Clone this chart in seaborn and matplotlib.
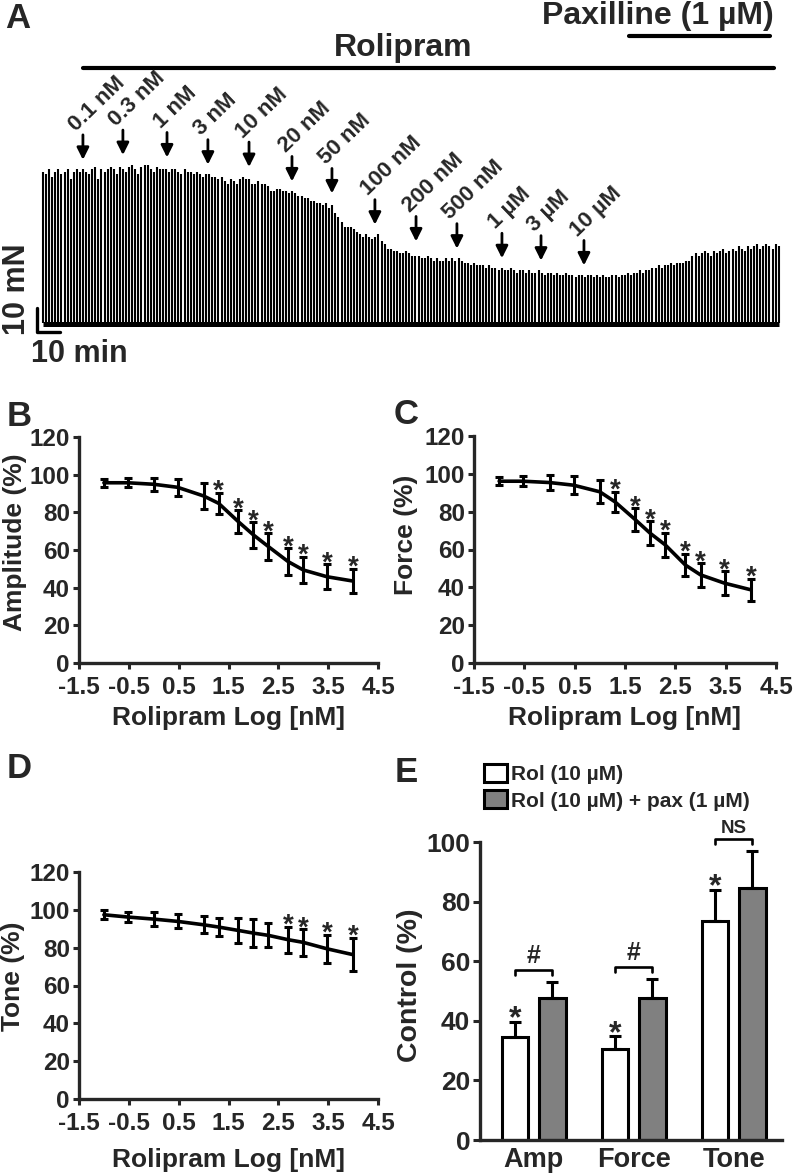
import numpy as np
import pandas as pd
import matplotlib
matplotlib.use("Agg")
import matplotlib.pyplot as plt
import matplotlib.patches as mpatches
import seaborn as sns

# ---------------- panel A : isometric tension trace ----------------
# peak force of each contraction (mN), read left to right off the trace
peaks_mN = [
    63, 62, 64, 61, 63, 64, 62, 63, 64, 60, 63, 64, 63,
    64, 63, 62, 64, 65, 60, 64, 63, 64, 65, 64, 62, 65,
    64, 63, 65, 66, 64, 62, 65, 66, 66, 64, 63, 65, 64, 64,
    64, 63, 64, 64, 63, 62, 64, 63, 63, 62, 63, 62, 61, 62,
    62, 61, 61, 60, 61, 59, 58, 60, 59, 58, 60, 61, 60,
    60, 58, 58, 59, 58, 58, 57,
    55, 55, 56, 56, 55, 55, 54,
    55, 54, 53, 53, 52, 52, 51, 51, 50, 50, 49, 50, 48,
    49, 46, 44, 42, 40,
    40, 40, 39, 38, 37, 36, 37, 36, 35,
    36, 37, 34, 33, 31, 31, 30,
    30, 29, 29, 30, 29, 28, 28,
    28, 27, 27, 28, 27, 26, 27, 26,
    26, 27, 26, 27, 26, 27, 26, 25, 25, 24, 25, 24, 24,
    24, 23, 24, 23, 23, 22, 23, 22, 22, 23, 22, 21, 22, 22, 21, 22,
    21, 21, 22, 21, 20, 21, 21, 20, 21, 20, 20, 21, 20, 20, 19, 20, 20, 19, 20, 20,
    19, 20, 19, 20, 19, 19, 20, 20, 19, 20, 20, 21, 20,
    21, 21, 22, 21, 22, 22, 23, 23, 24, 23, 24, 24, 25, 24, 25, 25, 25, 26, 26,
    28, 29, 28, 29, 30, 29, 28, 30, 29, 30, 31, 29, 30, 31, 30, 32, 31, 30, 32, 31,
    32, 33, 31, 32, 33, 32, 31, 33, 32,
]
beat_interval = 1.34  # min between contractions
dose_labels = ["0.1 nM", "0.3 nM", "1 nM", "3 nM", "10 nM", "20 nM", "50 nM",
               "100 nM", "200 nM", "500 nM", "1 \u00b5M", "3 \u00b5M", "10 \u00b5M"]
dose_times = [17.4, 34.8, 54.0, 71.8, 89.7, 108.4, 125.8, 144.5, 162.4,
              180.2, 199.8, 216.8, 235.5]
rolipram_span = [17.4, 318.3]
paxilline_span = [255.1, 316.5]

# ---------------- panels B-D : cumulative concentration response ----------------
conc_nM = [0.1, 0.3, 1, 3, 10, 20, 50, 100, 200, 500, 1000, 3000, 10000]
amp_mean = [95.7, 95.7, 94.9, 93.3, 88.7, 84.8, 75.0, 68.0, 61.8, 53.8, 49.4, 45.8, 43.5]
amp_sem = [2.0, 2.5, 3.5, 4.4, 7.0, 5.5, 6.0, 6.8, 7.0, 7.0, 7.0, 6.6, 6.4]
amp_sig = [0, 0, 0, 0, 0, 1, 1, 1, 1, 1, 1, 1, 1]
force_mean = [96.1, 96.1, 95.4, 94.0, 90.5, 85.2, 75.9, 68.6, 62.4, 51.8, 46.6, 42.2, 38.7]
force_sem = [2.0, 2.5, 4.0, 4.7, 6.0, 5.3, 6.0, 6.4, 6.3, 6.0, 6.2, 6.3, 5.9]
force_sig = [0, 0, 0, 0, 0, 1, 1, 1, 1, 1, 1, 1, 1]
tone_mean = [97.4, 96.2, 95.1, 93.9, 92.1, 90.9, 89.1, 87.7, 86.5, 84.2, 82.8, 79.4, 76.3]
tone_sem = [2.3, 2.8, 3.8, 3.7, 4.4, 4.8, 6.6, 7.3, 6.3, 6.8, 7.0, 7.5, 8.8]
tone_sig = [0, 0, 0, 0, 0, 0, 0, 0, 0, 1, 1, 1, 1]
x_ticks = [-1.5, -0.5, 0.5, 1.5, 2.5, 3.5, 4.5]
x_tick_labels = ["-1.5", "-0.5", "0.5", "1.5", "2.5", "3.5", "4.5"]

# ---------------- panel E : 10 uM rolipram with / without paxilline ----------------
measures = ["Amp", "Force", "Tone"]
rol_mean = [34.6, 30.7, 73.4]
rol_sem = [5.1, 4.2, 10.6]
pax_mean = [47.8, 47.7, 84.6]
pax_sem = [5.3, 6.3, 12.4]
group_names = ["Rol (10 \u00b5M)", "Rol (10 \u00b5M) + pax (1 \u00b5M)"]
pair_marks = ["#", "#", "NS"]

sns.set_theme(style="ticks")
plt.rcParams["font.family"] = ["Liberation Sans", "DejaVu Sans"]
plt.rcParams["font.weight"] = "bold"
plt.rcParams["axes.labelweight"] = "bold"
plt.rcParams["axes.linewidth"] = 2.4

W, H = 796, 1176
fig = plt.figure(figsize=(W / 100, H / 100), dpi=100)


def box(left, top, right, bottom):
    # pixel box -> figure fraction rect
    return [left / W, 1 - bottom / H, (right - left) / W, (bottom - top) / H]


# ---- A ----
axA = fig.add_axes(box(0, 0, 796, 365))
axA.set_xlim(-18.7, 327.8)
axA.set_ylim(-17.5, 134.6)
axA.axis("off")
t = np.arange(len(peaks_mN)) * beat_interval
axA.vlines(t, 0, peaks_mN, color="black", lw=1.5)
axA.plot([t[0], t[-1]], [-0.6, -0.6], color="black", lw=3.6, solid_capstyle="butt")

for lbl, tm in zip(dose_labels, dose_times):
    i = int(round(tm / beat_interval))
    tip = max(peaks_mN[max(0, i - 3):i + 4]) + 4
    axA.annotate("", xy=(tm, tip), xytext=(tm, tip + 10.4),
                 arrowprops=dict(arrowstyle="-|>,head_length=0.6,head_width=0.3",
                                 color="black", lw=2, shrinkA=0, shrinkB=0,
                                 mutation_scale=12))
    axA.text(tm - 2.8, tip + 11.8, lbl, rotation=44, rotation_mode="anchor",
             ha="left", va="baseline", fontsize=16)

axA.plot(rolipram_span, [106.2, 106.2], color="black", lw=3)
axA.text(156.7, 114.6, "Rolipram", ha="center", va="center", fontsize=23)
axA.plot(paxilline_span, [119.6, 119.6], color="black", lw=3)
axA.text(318.3, 127.8, "Paxilline (1 \u00b5M)", ha="right", va="center", fontsize=23)

# scale bars
axA.plot([-2.6, -2.6, 7.4], [6.25, -3.75, -3.75], color="black", lw=2.4)
axA.text(-11.3, 14, "10 mN", rotation=90, ha="center", va="center", fontsize=22)
axA.text(-5.0, -13.0, "10 min", ha="left", va="center", fontsize=22)


# ---- B, C, D ----
def dose_panel(rect, mean, sem, sig, ylabel, ylab_xy, xlab_y):
    ax = fig.add_axes(rect)
    df = pd.DataFrame({"logc": np.log10(conc_nM), "resp": mean})
    sns.lineplot(data=df, x="logc", y="resp", color="black", lw=2.6, ax=ax)
    ax.errorbar(df["logc"], df["resp"], yerr=sem, fmt="none", ecolor="black",
                elinewidth=2.2, capsize=3, capthick=2.2)
    for xv, m, e, s in zip(df["logc"], mean, sem, sig):
        if s:
            ax.text(xv, m + e - 3.2, "*", ha="center", va="baseline", fontsize=20)
    ax.set_xlim(-1.5, 4.5)
    ax.set_ylim(0, 120)
    ax.set_xticks(x_ticks)
    ax.set_xticklabels(x_tick_labels)
    ax.set_yticks(range(0, 121, 20))
    ax.tick_params(width=2.2, length=4.5, labelsize=17.5, pad=2)
    ax.tick_params(axis="x", pad=4.5)
    ax.set_xlabel("Rolipram Log [nM]", fontsize=19)
    ax.set_ylabel(ylabel, fontsize=19)
    ax.yaxis.set_label_coords(*ylab_xy)
    ax.xaxis.set_label_coords(0.5, xlab_y)
    sns.despine(ax=ax)
    return ax


dose_panel(box(79, 437, 378, 663), amp_mean, amp_sem, amp_sig,
           "Amplitude (%)", (-0.174, 0.535), -0.19)
dose_panel(box(474, 436, 776, 663), force_mean, force_sem, force_sig,
           "Force (%)", (-0.187, 0.564), -0.19)
dose_panel(box(79, 872, 378, 1099), tone_mean, tone_sem, tone_sig,
           "Tone (%)", (-0.18, 0.539), -0.215)

# ---- E ----
axE = fig.add_axes(box(480, 842, 782, 1140))
dfE = pd.DataFrame({
    "measure": measures * 2,
    "value": rol_mean + pax_mean,
    "group": [group_names[0]] * 3 + [group_names[1]] * 3,
})
sns.barplot(data=dfE, x="measure", y="value", hue="group", hue_order=group_names,
            palette=["white", "#808080"], edgecolor="black", linewidth=2.2,
            width=0.75, gap=0.29, errorbar=None, legend=False, ax=axE)
for cont, errs in zip(axE.containers, [rol_sem, pax_sem]):
    xs = [p.get_x() + p.get_width() / 2 for p in cont]
    tops = [p.get_height() for p in cont]
    axE.errorbar(xs, tops, yerr=[np.zeros(len(errs)), errs], fmt="none",
                 ecolor="black", elinewidth=2.2, capsize=4, capthick=2.2, zorder=1)
    if cont is axE.containers[0]:
        for x0, top, e in zip(xs, tops, errs):
            axE.text(x0, top + e - 2.0, "*", ha="center", va="baseline", fontsize=23)

rol_x = [p.get_x() + p.get_width() / 2 for p in axE.containers[0]]
pax_x = [p.get_x() + p.get_width() / 2 for p in axE.containers[1]]
for k, mark in enumerate(pair_marks):
    yb = max(rol_mean[k] + rol_sem[k], pax_mean[k] + pax_sem[k]) + 4
    axE.plot([rol_x[k], rol_x[k], pax_x[k], pax_x[k]], [yb - 1.6, yb, yb, yb - 1.6],
             color="black", lw=1.9, clip_on=False)
    axE.text((rol_x[k] + pax_x[k]) / 2, yb + 0.6, mark, ha="center", va="bottom",
             fontsize=18 if mark == "#" else 13.5)

axE.set_xlim(-0.5375, 2.4825)
axE.set_ylim(0, 100)
axE.set_yticks(range(0, 101, 20))
axE.tick_params(axis="y", width=2.2, length=5, labelsize=19, pad=2)
axE.tick_params(axis="x", length=0, labelsize=19.5, pad=5)
axE.set_xlabel("")
axE.set_ylabel("Control (%)", fontsize=20.5)
axE.yaxis.set_label_coords(-0.19, 0.52)
sns.despine(ax=axE)

handles = [mpatches.Patch(facecolor=c, edgecolor="black", lw=2.2)
           for c in ["white", "#808080"]]
axE.legend(handles, group_names, loc="upper left", bbox_to_anchor=(484 / W, 1 - 764 / H),
           bbox_transform=fig.transFigure, frameon=False, fontsize=15,
           handlelength=1.1, handleheight=0.95, handletextpad=0.2,
           labelspacing=0.3, borderpad=0, borderaxespad=0)

# panel letters
for letter, (px, py) in zip("ABCDE", [(18, 18), (19, 417), (406, 414), (19, 768), (406, 772)]):
    fig.text(px / W, 1 - py / H, letter, ha="center", va="center", fontsize=25)

fig.savefig("out.png", dpi=100)
